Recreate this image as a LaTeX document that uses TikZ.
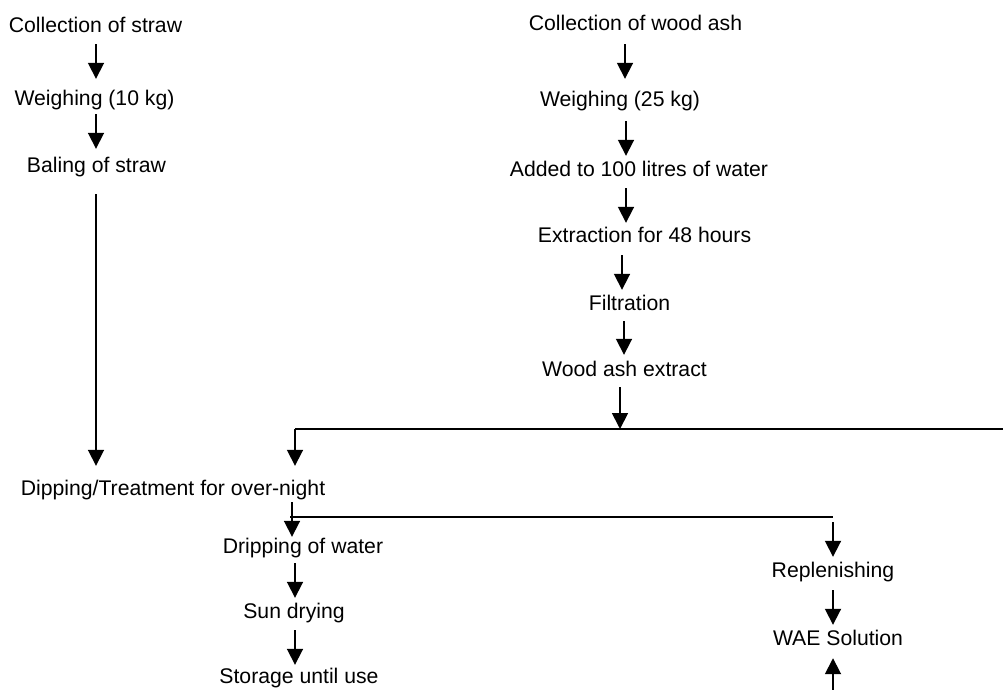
\documentclass[tikz,border=0pt]{standalone}
\usepackage{fontspec}
\setmainfont{Liberation Sans}
\usetikzlibrary{arrows.meta}
\begin{document}
\begin{tikzpicture}[x=1pt,y=-1pt,
  lbl/.style={anchor=base,inner sep=0pt,text height=15pt,text depth=0pt,font=\fontsize{21.2}{25}\selectfont},
  arr/.style={line width=1.8pt,-{Triangle[length=16pt,width=16pt]}},
  ln/.style={line width=1.8pt}]
\useasboundingbox (0,0) rectangle (1003,689);
% left column
\node[lbl] (A1) at (95.5,32) {Collection of straw};
\node[lbl] (A2) at (94.5,105) {Weighing (10 kg)};
\node[lbl] (A3) at (96.5,172) {Baling of straw};
\node[lbl] (D) at (173,495) {Dipping/Treatment for over-night};
% right column
\node[lbl] (B1) at (635.5,30) {Collection of wood ash};
\node[lbl] (B2) at (620,106) {Weighing (25 kg)};
\node[lbl] (B3) at (639,176) {Added to 100 litres of water};
\node[lbl] (B4) at (644.5,242) {Extraction for 48 hours};
\node[lbl] (B5) at (629.5,310) {Filtration};
\node[lbl] (B6) at (624.5,376) {Wood ash extract};
% bottom
\node[lbl] (E1) at (303,553) {Dripping of water};
\node[lbl] (E2) at (294,618) {Sun drying};
\node[lbl] (E3) at (299,683) {Storage until use};
\node[lbl] (R1) at (833,577) {Replenishing};
\node[lbl] (R2) at (838,645) {WAE Solution};
% column coordinates
\coordinate (cL) at (96,0);
\coordinate (c625) at (625,0);
\coordinate (c626) at (626,0);
\coordinate (c622) at (622,0);
\coordinate (c624) at (624,0);
\coordinate (c620) at (620,0);
\coordinate (cM) at (292,0);
\coordinate (cE) at (295,0);
\coordinate (H1) at (295,429);
\coordinate (H2) at (1003,429);
\coordinate (J1) at (290,517);
\coordinate (J2) at (833,517);
\coordinate (Bot) at (833,692);
% left arrows
\draw[arr,shorten <=12pt,shorten >=11pt] (A1.south -| cL) -- (A2.north -| cL);
\draw[arr,shorten <=9pt,shorten >=8pt] (A2.south -| cL) -- (A3.north -| cL);
\draw[arr,shorten <=22pt,shorten >=14pt] (A3.south -| cL) -- (D.north -| cL);
% right arrows
\draw[arr,shorten <=14pt,shorten >=12pt] (B1.south -| c625) -- (B2.north -| c625);
\draw[arr,shorten <=15pt,shorten >=5pt] (B2.south -| c626) -- (B3.north -| c626);
\draw[arr,shorten <=12pt,shorten >=4pt] (B3.south -| c626) -- (B4.north -| c626);
\draw[arr,shorten <=13pt,shorten >=5pt] (B4.south -| c622) -- (B5.north -| c622);
\draw[arr,shorten <=11pt,shorten >=6pt] (B5.south -| c624) -- (B6.north -| c624);
\draw[arr,shorten <=11pt] (B6.south -| c620) -- (c620 |- H1);
% distribution line
\draw[ln] (H1) -- (H2);
\draw[arr,shorten >=14pt] (H1) -- (H1 |- D.north);
% bottom left
\draw[arr,shorten <=7pt,shorten >=1pt] (D.south -| cM) -- (E1.north -| cM);
\draw[ln] (J1) -- (J2);
\draw[arr,shorten <=10pt,shorten >=5pt] (E1.south -| cE) -- (E2.north -| cE);
\draw[arr,shorten <=12pt,shorten >=3pt] (E2.south -| cE) -- (E3.north -| cE);
% bottom right
\draw[arr,shorten <=5pt,shorten >=5pt] (J2) -- (R1.north -| J2);
\draw[arr,shorten <=13pt,shorten >=5pt] (R1.south -| J2) -- (R2.north -| J2);
\draw[arr,shorten >=13pt] (Bot) -- (Bot |- R2.south);
\end{tikzpicture}
\end{document}
